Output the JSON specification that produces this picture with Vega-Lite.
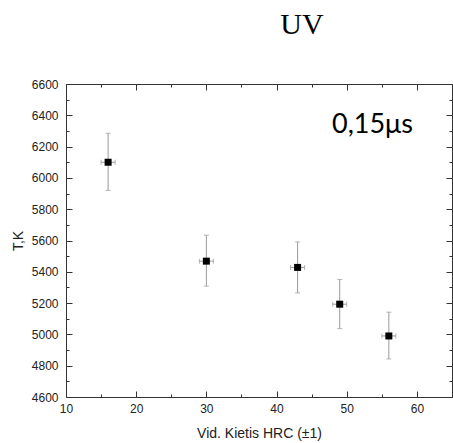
{
  "$schema": "https://vega.github.io/schema/vega-lite/v6.json",
  "autosize": "none",
  "width": 386,
  "height": 313,
  "padding": {"top": 84, "left": 66, "right": 1, "bottom": 46},
  "background": "white",
  "title": {"text": "UV", "font": "Liberation Serif", "fontSize": 30, "fontWeight": "normal", "color": "black", "dx": 43, "offset": 38},
  "config": {"view": {"stroke": null}},
  "data": {"values": [
    {"x": 16, "y": 6100, "ylo": 5920, "yhi": 6285, "xlo": 15, "xhi": 17},
    {"x": 30, "y": 5468, "ylo": 5308, "yhi": 5634, "xlo": 29, "xhi": 31},
    {"x": 43, "y": 5428, "ylo": 5265, "yhi": 5591, "xlo": 42, "xhi": 44},
    {"x": 49, "y": 5193, "ylo": 5037, "yhi": 5351, "xlo": 48, "xhi": 50},
    {"x": 56, "y": 4990, "ylo": 4843, "yhi": 5142, "xlo": 55, "xhi": 57}
  ]},
  "layer": [
    {
      "mark": {"type": "rule", "color": "#999999", "strokeWidth": 1},
      "encoding": {
        "x": {"field": "x", "type": "quantitative", "scale": {"domain": [10, 65], "nice": false, "zero": false},
          "axis": {"orient": "bottom", "title": "Vid. Kietis HRC (±1)", "values": [10,15,20,25,30,35,40,45,50,55,60,65],
            "labelExpr": "datum.value % 10 === 0 && datum.value < 65 ? datum.label : ''",
            "tickSize": {"condition": {"test": "datum.value % 10 === 0", "value": -6}, "value": -3},
            "domainColor": "#333333", "tickColor": "#333333", "grid": false,
            "labelFont": "Liberation Sans", "labelFontSize": 12, "labelColor": "#222222", "labelPadding": 12, "labelFlush": false,
            "titleFont": "Liberation Sans", "titleFontSize": 14, "titleFontWeight": "normal", "titleColor": "#222222", "titlePadding": 12}},
        "y": {"field": "ylo", "type": "quantitative", "scale": {"domain": [4600, 6600], "nice": false, "zero": false},
          "axis": {"orient": "left", "title": "T,K", "values": [4600,4700,4800,4900,5000,5100,5200,5300,5400,5500,5600,5700,5800,5900,6000,6100,6200,6300,6400,6500,6600],
            "labelExpr": "datum.value % 200 === 0 ? datum.label : ''", "format": "d",
            "tickSize": {"condition": {"test": "datum.value % 200 === 0", "value": -6}, "value": -3},
            "domainColor": "#333333", "tickColor": "#333333", "grid": false,
            "labelFont": "Liberation Sans", "labelFontSize": 12, "labelColor": "#222222", "labelPadding": 14, "labelFlush": false,
            "titleFont": "Liberation Sans", "titleFontSize": 14, "titleFontWeight": "normal", "titleColor": "#222222", "titlePadding": 6}},
        "y2": {"field": "yhi"}
      }
    },
    {
      "mark": {"type": "tick", "orient": "horizontal", "color": "#999999", "thickness": 1, "size": 5},
      "encoding": {
        "x": {"field": "x", "type": "quantitative",
          "axis": {"orient": "top", "title": null, "labels": false, "values": [10,15,20,25,30,35,40,45,50,55,60,65],
            "tickSize": {"condition": {"test": "datum.value % 10 === 0", "value": -6}, "value": -3},
            "domainColor": "#333333", "tickColor": "#333333", "grid": false}},
        "y": {"field": "ylo", "type": "quantitative",
          "axis": {"orient": "right", "title": null, "labels": false, "values": [4600,4700,4800,4900,5000,5100,5200,5300,5400,5500,5600,5700,5800,5900,6000,6100,6200,6300,6400,6500,6600],
            "tickSize": {"condition": {"test": "datum.value % 200 === 0", "value": -6}, "value": -3},
            "domainColor": "#333333", "tickColor": "#333333", "grid": false}}
      }
    },
    {
      "mark": {"type": "tick", "orient": "horizontal", "color": "#999999", "thickness": 1, "size": 5},
      "encoding": {
        "x": {"field": "x", "type": "quantitative", "axis": null},
        "y": {"field": "yhi", "type": "quantitative", "axis": null}
      }
    },
    {
      "mark": {"type": "rule", "color": "#999999", "strokeWidth": 1},
      "encoding": {
        "x": {"field": "xlo", "type": "quantitative", "axis": null},
        "x2": {"field": "xhi"},
        "y": {"field": "y", "type": "quantitative", "axis": null}
      }
    },
    {
      "mark": {"type": "tick", "orient": "vertical", "color": "#999999", "thickness": 1, "size": 5},
      "encoding": {
        "x": {"field": "xlo", "type": "quantitative", "axis": null},
        "y": {"field": "y", "type": "quantitative", "axis": null}
      }
    },
    {
      "mark": {"type": "tick", "orient": "vertical", "color": "#999999", "thickness": 1, "size": 5},
      "encoding": {
        "x": {"field": "xhi", "type": "quantitative", "axis": null},
        "y": {"field": "y", "type": "quantitative", "axis": null}
      }
    },
    {
      "mark": {"type": "point", "shape": "square", "filled": true, "color": "black", "size": 49, "opacity": 1},
      "encoding": {
        "x": {"field": "x", "type": "quantitative", "axis": null},
        "y": {"field": "y", "type": "quantitative", "axis": null}
      }
    },
    {
      "data": {"values": [{"x": 47.9, "y": 6286, "label": "0,15μs"}]},
      "mark": {"type": "text", "align": "left", "baseline": "alphabetic", "font": "Lato", "fontSize": 27, "color": "black"},
      "encoding": {
        "x": {"field": "x", "type": "quantitative", "axis": null},
        "y": {"field": "y", "type": "quantitative", "axis": null},
        "text": {"field": "label"}
      }
    }
  ]
}
